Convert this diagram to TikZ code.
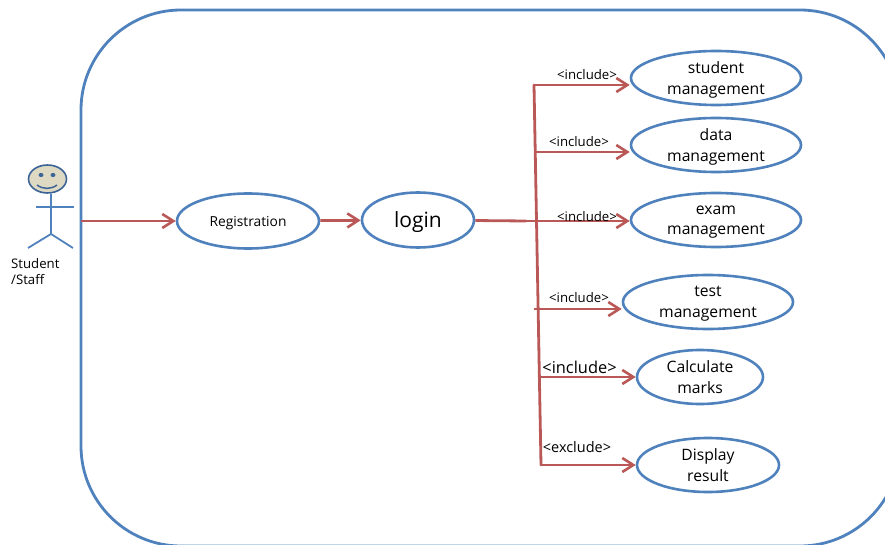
\documentclass[tikz,border=0pt]{standalone}
\usepackage{fontspec}
\setmainfont{Open Sans}
\usetikzlibrary{shapes.geometric,arrows.meta}

\definecolor{boxblue}{RGB}{79,129,189}
\definecolor{linkred}{RGB}{186,88,88}
\definecolor{facetan}{RGB}{221,217,195}
\definecolor{facedark}{RGB}{60,100,150}
\tikzset{
    usecase/.style={shape=ellipse,draw=boxblue,line width=2.6pt,inner sep=0pt,align=center,text depth=0pt,font=\fontsize{15.7}{20.5}\selectfont},
    link/.style={draw=linkred,line width=2.8pt},
    linkarrow/.style={link,-{Straight Barb[length=11pt,width=14pt,line width=2.6pt]}},
    actorline/.style={draw=boxblue,line width=1.8pt},
    small/.style={font=\fontsize{13.2}{13.2}\selectfont,inner sep=0pt},
    big/.style={font=\fontsize{16.4}{16.4}\selectfont,inner sep=0pt}
}

\begin{document}
\begin{tikzpicture}[x=1pt,y=-1pt]
    \useasboundingbox (0,0) rectangle (885,545);
    % system boundary
    \draw[boxblue,line width=2.8pt,rounded corners=100pt] (81,10) rectangle (900,546);

    % actor
    \node[shape=ellipse,draw=facedark,fill=facetan,line width=1.6pt,minimum width=38pt,minimum height=28pt,inner sep=0pt] (head) at (47.5,179) {};
    \fill[facedark] (41,175) ellipse (2.5pt and 2pt) (53,175) ellipse (2.5pt and 2pt);
    \draw[facedark,line width=1.5pt] (37,185) .. controls (43,189.5) and (51,189.5) .. (57,185);
    \coordinate (hip) at (51,234);
    \coordinate (armleft) at (36,207);
    \coordinate (armright) at (74,207);
    \coordinate (footleft) at (28,248);
    \coordinate (footright) at (73,248);
    \draw[actorline] (head.south -| hip) -- (hip);
    \draw[actorline] (armleft) -- (armright);
    \draw[actorline] (footleft) -- (hip) -- (footright);
    \node[anchor=north west,align=left,inner sep=0pt,font=\fontsize{13.2}{16}\selectfont] (actorname) at (11,258.5) {Student\\/Staff};

    % use cases
    \node[usecase,minimum width=142pt,minimum height=55pt,font=\fontsize{13.8}{13.8}\selectfont] (reg) at (248,221) {Registration};
    \node[usecase,minimum width=112pt,minimum height=55pt,font=\fontsize{21}{21}\selectfont] (login) at (418,220) {login};
    \node[usecase,minimum width=170pt,minimum height=54pt] (student) at (716,78) {student\\management};
    \node[usecase,minimum width=170pt,minimum height=54pt] (data) at (716,145) {data\\management};
    \node[usecase,minimum width=170pt,minimum height=54pt] (exam) at (716,220) {exam\\management};
    \node[usecase,minimum width=170pt,minimum height=54pt] (test) at (708,302) {test\\management};
    \node[usecase,minimum width=126pt,minimum height=54pt] (calc) at (700,377) {Calculate\\marks};
    \node[usecase,minimum width=142pt,minimum height=54pt] (result) at (708,465) {Display\\result};

    % bus and its branch points
    \coordinate (actorport) at (81,221);
    \coordinate (bustop) at (534,85);
    \coordinate (busbottom) at (541,465);
    \coordinate (busdata) at (534,152);
    \coordinate (busexam) at (526,221);
    \coordinate (bustest) at (534,309);
    \coordinate (buscalc) at (540,377);

    \draw[linkarrow] (actorport) -- (reg);
    \draw[linkarrow] (reg) -- (login);
    \draw[link] (login) -- (busexam);
    \draw[link,line cap=round] (bustop) -- (busbottom);
    \draw[linkarrow] (bustop) -- (student.west |- bustop);
    \draw[linkarrow] (busdata) -- (data.west |- busdata);
    \draw[linkarrow] (busexam) -- (exam.west |- busexam);
    \draw[linkarrow] (bustest) -- (test.west |- bustest);
    \draw[linkarrow] (buscalc) -- (calc.west |- buscalc);
    \draw[linkarrow] (busbottom) -- (result.west |- busbottom);

    % stereotypes
    \node[small] (lstudent) at (587,75) {<include>};
    \node[small] (ldata) at (579,142) {<include>};
    \node[small] (lexam) at (587,217) {<include>};
    \node[small] (ltest) at (579,298) {<include>};
    \node[big] (lcalc) at (579.5,367) {<include>};
    \node[small,font=\fontsize{14.5}{14.5}\selectfont] (lresult) at (577,447) {<exclude>};
\end{tikzpicture}
\end{document}
